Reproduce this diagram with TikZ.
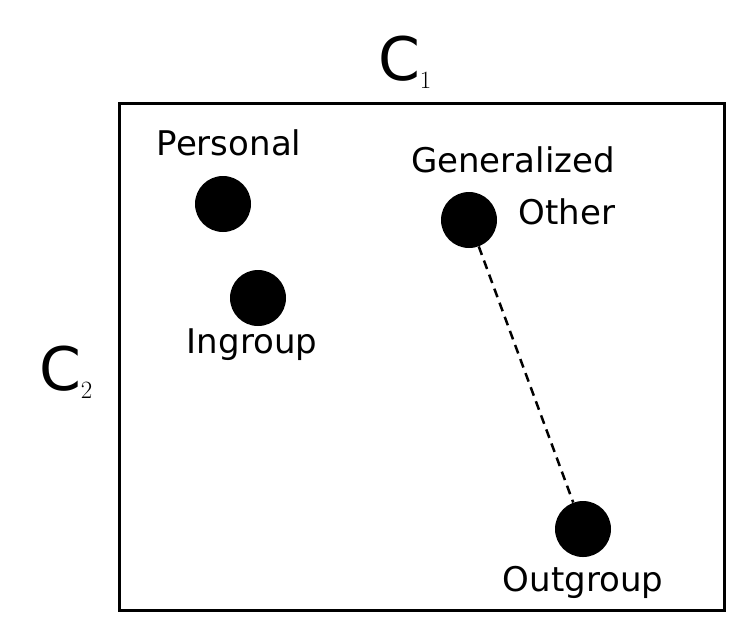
\documentclass[tikz,border=0pt]{standalone}
\usepackage{fontspec}
\setmainfont{DejaVu Sans}
\begin{document}
\begin{tikzpicture}[x=1pt,y=-1pt,
  dot/.style={circle,fill=black,minimum size=56pt,inner sep=0pt},
  lbl/.style={font=\fontsize{34}{38}\selectfont,inner sep=0pt}]
\useasboundingbox (0,0) rectangle (754,638);
\draw[line width=3pt] (119,103) rectangle (724,610);
\node[font=\fontsize{60}{64}\selectfont] (c1) at (405,62) {C$_1$};
\node[font=\fontsize{60}{64}\selectfont] (c2) at (66,372) {C$_2$};
% points
\node[dot] (personal) at (223,204) {};
\node[dot] (ingroup) at (258,298) {};
\node[dot] (general) at (469,220) {};
\node[dot] (outgroup) at (583,529) {};
\node[lbl] (lpersonal) at (229,143) {Personal};
\node[lbl] (lgeneral) at (513,160) {Generalized};
\node[lbl] (lother) at (567,212) {Other};
\node[lbl] (lingroup) at (252,345) {Ingroup};
\node[lbl] (loutgroup) at (583,582) {Outgroup};
\draw[line width=2.5pt,dash pattern=on 9pt off 6pt] (general) -- (outgroup);
\end{tikzpicture}
\end{document}
